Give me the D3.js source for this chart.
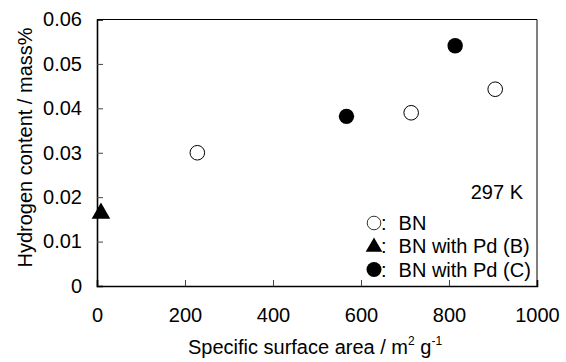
<!DOCTYPE html>
<html>
<head>
<meta charset="utf-8">
<script src="https://cdn.jsdelivr.net/npm/d3@7"></script>
<style>
  body { margin: 0; background: #fff; }
  svg { display: block; font-family: "Liberation Sans", Arial, sans-serif; }
</style>
</head>
<body>
<div id="chart"></div>
<script>
// ----------------------------------------------------------------------------
// Data
// ----------------------------------------------------------------------------

// BN (open circles)
const bnArea    = [228, 714, 905]
const bnH2      = [0.0300, 0.0390, 0.0443]

// BN with Pd (B) (filled triangle)
const pdBArea   = [9]
const pdBH2     = [0.0166]

// BN with Pd (C) (filled circles)
const pdCArea   = [567, 814]
const pdCH2     = [0.0382, 0.0541]

const xTicks = [0, 200, 400, 600, 800, 1000]
const yTicks = [0, 0.01, 0.02, 0.03, 0.04, 0.05, 0.06]

const legendItems = [
  { symbol: 'open',     label: 'BN' },
  { symbol: 'triangle', label: 'BN with Pd (B)' },
  { symbol: 'filled',   label: 'BN with Pd (C)' }
]

// ----------------------------------------------------------------------------
// Setup
// ----------------------------------------------------------------------------

const width = 566, height = 362
const pos = { left: 97, right: 537, top: 19.5, bottom: 286 }
const fontSize = '20px'

const svg = d3.select('#chart').append('svg')
  .attr('width', width)
  .attr('height', height)

const x = d3.scaleLinear().domain([0, 1000]).range([pos.left, pos.right])
const y = d3.scaleLinear().domain([0, 0.06]).range([pos.bottom, pos.top])

// Frame: top and right thin lines
svg.append('path')
  .attr('d', `M${pos.left},${pos.top}H${pos.right}V${pos.bottom}`)
  .attr('fill', 'none')
  .attr('stroke', '#000')
  .attr('stroke-width', 1)

// Axes (ticks inside)
const xAxis = svg.append('g')
  .attr('transform', `translate(0,${pos.bottom})`)
  .call(d3.axisBottom(x).tickValues(xTicks).tickSize(-6).tickPadding(22)
    .tickFormat(d3.format('d')))

const yAxis = svg.append('g')
  .attr('transform', `translate(${pos.left},0)`)
  .call(d3.axisLeft(y).tickValues(yTicks).tickSize(-6).tickPadding(15)
    .tickFormat(d => d === 0 ? '0' : d3.format('.2f')(d)))

for (let axis of [xAxis, yAxis])
{
  axis.select('.domain').attr('stroke-width', 1.6).attr('stroke', '#000')
  axis.selectAll('.tick line').attr('stroke', '#444').attr('stroke-width', 1)
  axis.selectAll('.tick text')
    .style('font-family', '"Liberation Sans", Arial, sans-serif')
    .style('font-size', fontSize)
    .attr('fill', '#000')
}
// hide tick lines on the ends
xAxis.selectAll('.tick').filter(d => d === 0 || d === 1000).select('line').remove()
yAxis.selectAll('.tick').filter(d => d === 0 || d === 0.06).select('line').remove()

// Axis titles
const xTitle = svg.append('text')
  .attr('x', (pos.left + pos.right) / 2 - 2)
  .attr('y', 354)
  .attr('text-anchor', 'middle')
  .style('font-size', fontSize)
xTitle.append('tspan').text('Specific surface area / m')
xTitle.append('tspan').attr('dy', -9).style('font-size', '12px').text('2')
xTitle.append('tspan').attr('dy', 9).text(' g')
xTitle.append('tspan').attr('dy', -9).style('font-size', '12px').text('-1')

svg.append('text')
  .attr('transform', 'translate(32,147.5) rotate(-90)')
  .attr('text-anchor', 'middle')
  .style('font-size', fontSize)
  .text('Hydrogen content / mass%')

// ----------------------------------------------------------------------------
// Marks
// ----------------------------------------------------------------------------

const r = 7.3
const triangle = d3.symbol().type(d3.symbolTriangle).size(150)

svg.append('g').selectAll('circle')
  .data(d3.zip(bnArea, bnH2))
  .join('circle')
  .attr('cx', d => x(d[0]))
  .attr('cy', d => y(d[1]))
  .attr('r', r)
  .attr('fill', '#fff')
  .attr('stroke', '#000')
  .attr('stroke-width', 1)

svg.append('g').selectAll('circle')
  .data(d3.zip(pdCArea, pdCH2))
  .join('circle')
  .attr('cx', d => x(d[0]))
  .attr('cy', d => y(d[1]))
  .attr('r', r + 0.4)
  .attr('fill', '#000')

svg.append('g').selectAll('path')
  .data(d3.zip(pdBArea, pdBH2))
  .join('path')
  .attr('transform', d => `translate(${x(d[0])},${y(d[1]) + 1})`)
  .attr('d', triangle)
  .attr('fill', '#000')

// ----------------------------------------------------------------------------
// Annotation and legend
// ----------------------------------------------------------------------------

svg.append('text')
  .attr('x', 523)
  .attr('y', 199)
  .attr('text-anchor', 'end')
  .style('font-size', fontSize)
  .text('297 K')

const legend = svg.append('g').attr('transform', 'translate(374,0)')
const rowY = [230, 253, 276.5]

legendItems.forEach((item, i) => {
  const cy = rowY[i] - 7
  if (item.symbol === 'triangle')
    legend.append('path')
      .attr('transform', `translate(0,${cy + 1})`)
      .attr('d', d3.symbol().type(d3.symbolTriangle).size(120))
      .attr('fill', '#000')
  else
    legend.append('circle')
      .attr('cx', 0).attr('cy', cy)
      .attr('r', item.symbol === 'filled' ? 7.5 : 6.8)
      .attr('fill', item.symbol === 'filled' ? '#000' : '#fff')
      .attr('stroke', '#000')
      .attr('stroke-width', item.symbol === 'filled' ? 0 : 0.8)
  const t = legend.append('text')
    .attr('x', 7)
    .attr('y', rowY[i])
    .style('font-size', fontSize)
  t.append('tspan').text(':')
  t.append('tspan').attr('dx', 12).text(item.label)
})
</script>
</body>
</html>
